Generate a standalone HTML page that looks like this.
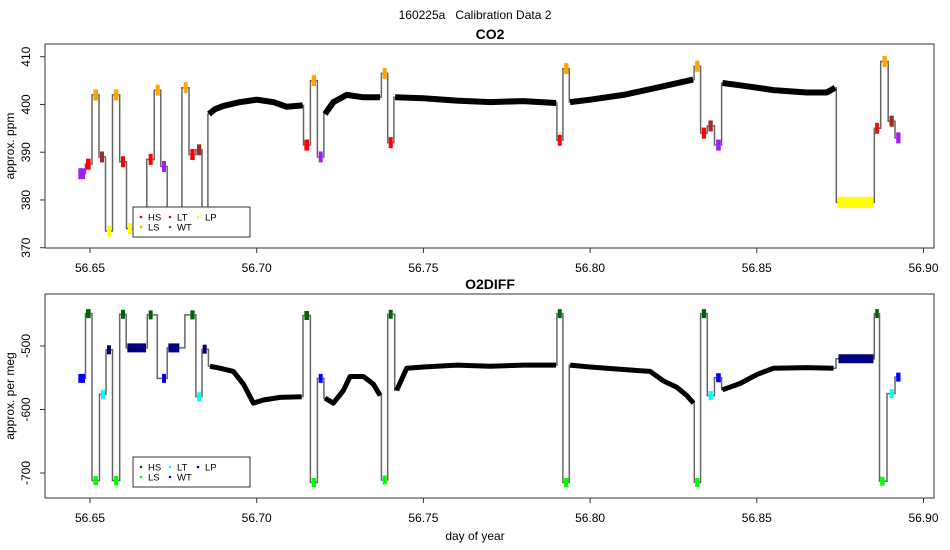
<!DOCTYPE html>
<html><head><meta charset="utf-8"><style>
html,body{margin:0;padding:0;background:#fff;}
svg{display:block;font-family:"Liberation Sans",Arial,sans-serif;}
</style></head><body>
<svg id="chart" width="950" height="550" viewBox="0 0 950 550" xmlns="http://www.w3.org/2000/svg">
<rect x="0" y="0" width="950" height="550" fill="#fff"/>
<text x="475" y="19" text-anchor="middle" font-size="12">160225a&#160;&#160;&#160;Calibration Data 2</text>
<g id="top"></g>
<g id="bottom"></g>
</svg>
<script>
// ---- data ----
const xTicks = [56.65, 56.70, 56.75, 56.80, 56.85, 56.90];
const xTickLabels = ["56.65", "56.70", "56.75", "56.80", "56.85", "56.90"];
const co2Ticks = [370, 380, 390, 400, 410];
const o2Ticks = [-700, -600, -500];
const legendKinds = ["HS", "LS", "LT", "WT", "LP"];
const co2Colors = ["#ff0000", "#ffa500", "#a52a2a", "#a020f0", "#ffff00"];
const o2Colors = ["#006400", "#00ff00", "#00ffff", "#0000ff", "#000080"];

// CO2 calibration segments: start day, end day, value, kind
const co2CalStart = [56.6465,56.6488,56.6510,56.6530,56.6551,56.6572,56.6593,56.6614,56.6640,56.6676,56.6697,56.6716,56.6735,56.6781,56.6801,56.6821,56.6838,56.7143,56.7165,56.7186,56.7378,56.7396,56.7903,56.7922,56.8315,56.8335,56.8355,56.8378,56.8742,56.8855,56.8877,56.8898,56.8918];
const co2CalEnd   = [56.6485,56.6502,56.6524,56.6542,56.6563,56.6585,56.6605,56.6626,56.6665,56.6688,56.6709,56.6728,56.6770,56.6793,56.6814,56.6834,56.6850,56.7157,56.7178,56.7198,56.7390,56.7408,56.7915,56.7935,56.8328,56.8348,56.8368,56.8392,56.8850,56.8866,56.8890,56.8911,56.8931];
const co2CalVal   = [385.5,387.5,402,389,373.5,402,388,374,374,388.5,403,387,374,403.5,389.5,390.5,374,391.5,405,389,406.5,392,392.5,407.5,408,394,395.5,391.5,379.5,395,409,396.5,393];
const co2CalKind  = ["WT","HS","LS","LT","LP","LS","HS","LP","LP","HS","LS","WT","LP","LS","HS","LT","LP","HS","LS","WT","LS","HS","HS","LS","LS","HS","LT","WT","LP","HS","LS","LT","WT"];
// CO2 ambient trace
const co2AmbDay = [56.6857,56.6875,56.690,56.695,56.700,56.705,56.709,56.7138, null, 56.7205,56.723,56.727,56.732,56.737, null, 56.7415,56.75,56.76,56.77,56.78,56.7898, null, 56.794,56.80,56.81,56.82,56.8309, null, 56.8397,56.845,56.855,56.865,56.871,56.8735];
const co2AmbVal = [398,399,399.7,400.5,401,400.5,399.5,399.8, null, 398,400.5,402,401.5,401.5, null, 401.5,401.3,400.8,400.5,400.7,400.3, null, 400.5,401,402,403.5,405.2, null, 404.5,404,403,402.5,402.5,403.5];

// O2DIFF calibration segments
const o2CalStart = [56.6465,56.6488,56.6510,56.6533,56.6551,56.6572,56.6593,56.6612,56.6676,56.6716,56.6735,56.6801,56.6821,56.6838,56.7143,56.7165,56.7186,56.7378,56.7396,56.7903,56.7922,56.8315,56.8335,56.8355,56.8378,56.8745,56.8855,56.8870,56.8898,56.8918];
const o2CalEnd   = [56.6485,56.6502,56.6524,56.6545,56.6563,56.6585,56.6605,56.6668,56.6688,56.6728,56.6768,56.6814,56.6834,56.6850,56.7157,56.7178,56.7198,56.7390,56.7408,56.7915,56.7935,56.8328,56.8348,56.8368,56.8392,56.8850,56.8866,56.8883,56.8911,56.8931];
const o2CalVal   = [-551,-449,-712,-576,-506,-712,-450,-503,-451,-551,-503,-451,-580,-505,-452,-715,-551,-711,-450,-449,-715,-715,-449,-578,-550,-520,-449,-713,-575,-549];
const o2CalKind  = ["WT","HS","LS","LT","LP","LS","HS","LP","HS","WT","LP","HS","LT","LP","HS","LS","WT","LS","HS","HS","LS","LS","HS","LT","WT","LP","HS","LS","LT","WT"];
const o2AmbDay = [56.686,56.689,56.693,56.696,56.699,56.702,56.707,56.7135, null, 56.7205,56.723,56.726,56.728,56.732,56.735,56.737, null, 56.742,56.745,56.75,56.76,56.77,56.78,56.7898, null, 56.794,56.80,56.81,56.818,56.822,56.826,56.829,56.831, null, 56.8397,56.845,56.85,56.855,56.865,56.873];
const o2AmbVal = [-532,-535,-540,-560,-590,-585,-581,-580, null, -582,-590,-570,-548,-548,-560,-578, null, -570,-535,-533,-530,-532,-530,-530, null, -530,-533,-537,-540,-555,-565,-578,-590, null, -569,-559,-545,-535,-534,-535];

// ---- drawing ----
const NS = "http://www.w3.org/2000/svg";
function mk(tag, attrs, parent) {
  const e = document.createElementNS(NS, tag);
  for (const k in attrs) e.setAttribute(k, attrs[k]);
  parent.appendChild(e);
  return e;
}
const X0 = 45, X1 = 934;
function xs(d) { return 90 + (d - 56.65) / 0.05 * 166.7; }

function panel(g, o) {
  const ys = v => o.yTop + (o.vTop - v) / (o.vTop - o.vBot) * (o.yBotPx - o.yTop);
  const t = mk("text", {x: 490, y: o.frameTop - 5, "text-anchor": "middle", "font-size": "14", "font-weight": "bold"}, g);
  
  
  t.textContent = o.title;
  const pieces = [];
  for (let i = 0; i < o.cs.length; i++) pieces.push({s: [o.cs[i], o.cv[i]], e: [o.ce[i], o.cv[i]]});
  let cur = null;
  for (let i = 0; i <= o.ad.length; i++) {
    if (i === o.ad.length || o.ad[i] === null) { if (cur) pieces.push(cur); cur = null; continue; }
    const p = [o.ad[i], o.av[i]];
    if (!cur) cur = {s: p, e: p}; else cur.e = p;
  }
  pieces.sort((a, b) => a.s[0] - b.s[0]);
  let d = "";
  for (let i = 0; i + 1 < pieces.length; i++) {
    const a = pieces[i].e, b = pieces[i + 1].s;
    const mx = xs((a[0] + b[0]) / 2);
    d += "M" + xs(a[0]).toFixed(1) + "," + ys(a[1]).toFixed(1) + "L" + mx.toFixed(1) + "," + ys(a[1]).toFixed(1) +
         "L" + mx.toFixed(1) + "," + ys(b[1]).toFixed(1) + "L" + xs(b[0]).toFixed(1) + "," + ys(b[1]).toFixed(1);
  }
  const gp = mk("path", {d: d, fill: "none", stroke: "#666", "stroke-width": "1.5"}, g);
  
  
  let seg = [];
  const flush = () => {
    if (seg.length) {
      const pl = mk("polyline", {points: seg.join(" "), fill: "none", stroke: "#000", "stroke-width": o.amW, "stroke-linejoin": "round"}, g);
      
      
    }
    seg = [];
  };
  for (let i = 0; i < o.ad.length; i++) {
    if (o.ad[i] === null) { flush(); continue; }
    seg.push(xs(o.ad[i]).toFixed(1) + "," + ys(o.av[i]).toFixed(1));
  }
  flush();
  for (let i = 0; i < o.cs.length; i++) {
    const col = o.colors[legendKinds.indexOf(o.ck[i])];
    const l = mk("line", {x1: xs(o.cs[i]), x2: xs(o.ce[i]), y1: ys(o.cv[i]), y2: ys(o.cv[i]), stroke: col, "stroke-width": o.calW}, g);
    
    
  }
  const fr = mk("rect", {x: X0, y: o.frameTop, width: X1 - X0, height: o.frameBot - o.frameTop, fill: "none", stroke: "#333", "stroke-width": "1"}, g);
  
  
  for (let i = 0; i < o.yt.length; i++) {
    const y = ys(o.yt[i]);
    const tk = mk("line", {x1: X0 - 5, x2: X0, y1: y, y2: y, stroke: "#333"}, g);
    
    
    const tl = mk("text", {x: 30, y: y, "text-anchor": "middle", "font-size": "12", transform: "rotate(-90 30 " + y + ")"}, g);
    
    
    tl.textContent = String(o.yt[i]);
  }
  for (let i = 0; i < xTicks.length; i++) {
    const x = xs(xTicks[i]);
    const tk = mk("line", {x1: x, x2: x, y1: o.frameBot, y2: o.frameBot + 5, stroke: "#333"}, g);
    
    
    const tl = mk("text", {x: x, y: o.frameBot + 24, "text-anchor": "middle", "font-size": "12"}, g);
    
    
    tl.textContent = xTickLabels[i];
  }
  const yl = mk("text", {x: 14, y: (o.frameTop + o.frameBot) / 2, "text-anchor": "middle", "font-size": "12", transform: "rotate(-90 14 " + (o.frameTop + o.frameBot) / 2 + ")"}, g);
  
  
  yl.textContent = o.ylab;
  const lg = mk("g", {}, g);
  
  
  mk("rect", {x: 133, y: o.legY, width: 117, height: 30, fill: "#fff", stroke: "#333"}, lg);
  const colX = [141, 170, 198];
  for (let i = 0; i < legendKinds.length; i++) {
    const c = Math.floor(i / 2), r = i % 2;
    const cx = colX[c], cy = o.legY + 10 + r * 10;
    const ent = mk("g", {}, lg);
    
    
    mk("circle", {cx: cx, cy: cy, r: 1.3, fill: o.colors[i]}, ent);
    const tx = mk("text", {x: cx + 7, y: cy + 3.5, "font-size": "9.5"}, ent);
    tx.textContent = legendKinds[i];
  }
}

panel(document.getElementById("top"), {
  name: "co2", title: "CO2", ylab: "approx. ppm",
  frameTop: 44, frameBot: 248, yTop: 56.7, yBotPx: 247.7, vTop: 410, vBot: 370,
  yt: co2Ticks, cs: co2CalStart, ce: co2CalEnd, cv: co2CalVal, ck: co2CalKind,
  ad: co2AmbDay, av: co2AmbVal, colors: co2Colors, amW: 6, calW: 11, legY: 207
});
panel(document.getElementById("bottom"), {
  name: "o2diff", title: "O2DIFF", ylab: "approx. per meg",
  frameTop: 294, frameBot: 498, yTop: 346, yBotPx: 473, vTop: -500, vBot: -700,
  yt: o2Ticks, cs: o2CalStart, ce: o2CalEnd, cv: o2CalVal, ck: o2CalKind,
  ad: o2AmbDay, av: o2AmbVal, colors: o2Colors, amW: 5, calW: 9, legY: 457
});
const xl = mk("text", {x: 475, y: 540, "text-anchor": "middle", "font-size": "12"}, document.getElementById("chart"));


xl.textContent = "day of year";
</script>
</body></html>
